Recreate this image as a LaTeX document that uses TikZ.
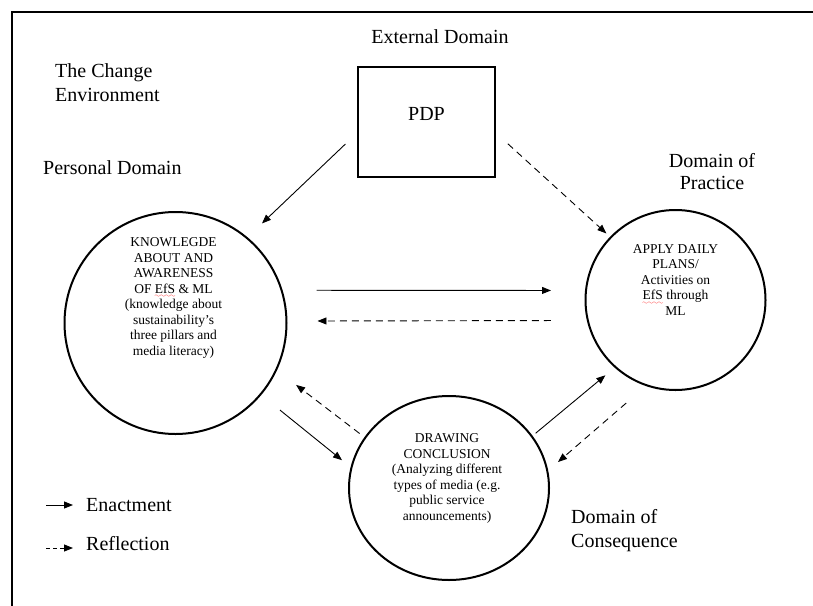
\documentclass[tikz,border=0pt]{standalone}
\usepackage{fontspec}
\setmainfont{Liberation Serif}
\usepackage{tikz}
\usetikzlibrary{arrows.meta,positioning,shapes.geometric}
\font\wavefont=lasy6
\newcommand\spellchk[1]{\setbox0=\hbox{#1}\rlap{\color{red}\hbox to\wd0{\xleaders\hbox{\lower4.5pt\hbox{\wavefont\char58}}\hfil}}#1}
\tikzset{
  bub/.style={draw, circle, line width=2pt, inner sep=0pt},
  sq/.style={draw, rectangle, line width=2pt, minimum width=137pt, minimum height=110pt},
  hd/.style={inner sep=0pt, font=\fontsize{20}{24}\selectfont},
  txt/.style={inner sep=0pt, align=center, font=\fontsize{13.5}{15.5}\selectfont},
  arr/.style={-{Triangle[length=9pt,width=7pt]}, line width=0.9pt},
  refl/.style={arr, dash pattern=on 7pt off 5pt}
}

\begin{document}
\begin{tikzpicture}[x=1pt, y=1pt]
  \useasboundingbox (0,0) rectangle (813,-605);
  \draw[line width=2pt] (11.8,-615) -- (11.8,-11.7) -- (825,-11.7);
  \node[sq] (pdp) at (426.5,-122) {};
  \node[hd] (pdptxt) at ([yshift=8pt]pdp.center) {PDP};
  \node[hd, above=22pt of pdp, xshift=13.5pt] (ext) {External Domain};
  \node[hd, align=left, anchor=west] (env) at (55,-83) {The Change\\Environment};
  \node[hd, anchor=west] (pers) at (43,-168) {Personal Domain};
  \node[hd, align=center, font=\fontsize{20}{22}\selectfont] (prac) at (712,-172) {Domain of\\Practice};
  \node[hd, align=left, anchor=west] (cons) at (571,-531) {Domain of\\Consequence};
  \node[bub, minimum size=222pt] (know) at (175.5,-323) {};
  \node[bub, minimum size=180pt] (appl) at (675.5,-300) {};
  \node[bub, ellipse, minimum width=200pt, minimum height=184pt] (concl) at (449,-488) {};
  \node[txt] (knowtxt) at ([xshift=-2pt, yshift=25pt]know.center) {KNOWLEGDE\\ABOUT AND\\AWARENESS\\OF \spellchk{EfS} \& ML\\(knowledge about\\sustainability’s\\three pillars and\\media literacy)};
  \node[txt] (appltxt) at ([yshift=20pt]appl.center) {APPLY DAILY\\PLANS/\\Activities on\\\spellchk{EfS} through\\ML};
  \node[txt] (concltxt) at ([xshift=-2pt, yshift=9.5pt]concl.center) {DRAWING\\CONCLUSION\\(Analyzing different\\types of media (e.g.\\public service\\announcements)};
  \draw[arr, shorten <=16pt, shorten >=20pt] ([yshift=-11pt]pdp.west) -- (know.50);
  \draw[refl, shorten <=16pt, shorten >=5pt] ([yshift=-11pt]pdp.east) -- (appl.136);
  \draw[arr, shorten <=34pt, shorten >=34pt] (know.17) -- (appl.174);
  \draw[refl, shorten <=36pt, shorten >=30pt] (appl.193) -- (know.1.5);
  \draw[arr, shorten <=24pt, shorten >=11pt] (know.320) -- (concl.168.5);
  \draw[refl, shorten <=6pt, shorten >=24pt] (concl.149.5) -- (know.335.6);
  \draw[arr, shorten <=4pt, shorten >=12pt] (concl.32) -- (appl.228.6);
  \draw[refl, shorten <=26pt, shorten >=13pt] (appl.251.6) -- (concl.10.6);
  \node[hd, anchor=west] (enact) at (86,-505) {Enactment};
  \node[hd, anchor=west] (reflect) at (86,-544) {Reflection};
  \draw[arr] ([xshift=-40pt]enact.west) -- ([xshift=-13pt]enact.west);
  \draw[refl, dash pattern=on 4pt off 3pt] ([xshift=-40pt, yshift=-4pt]reflect.west) -- ([xshift=-13pt, yshift=-4pt]reflect.west);
\end{tikzpicture}
\end{document}
